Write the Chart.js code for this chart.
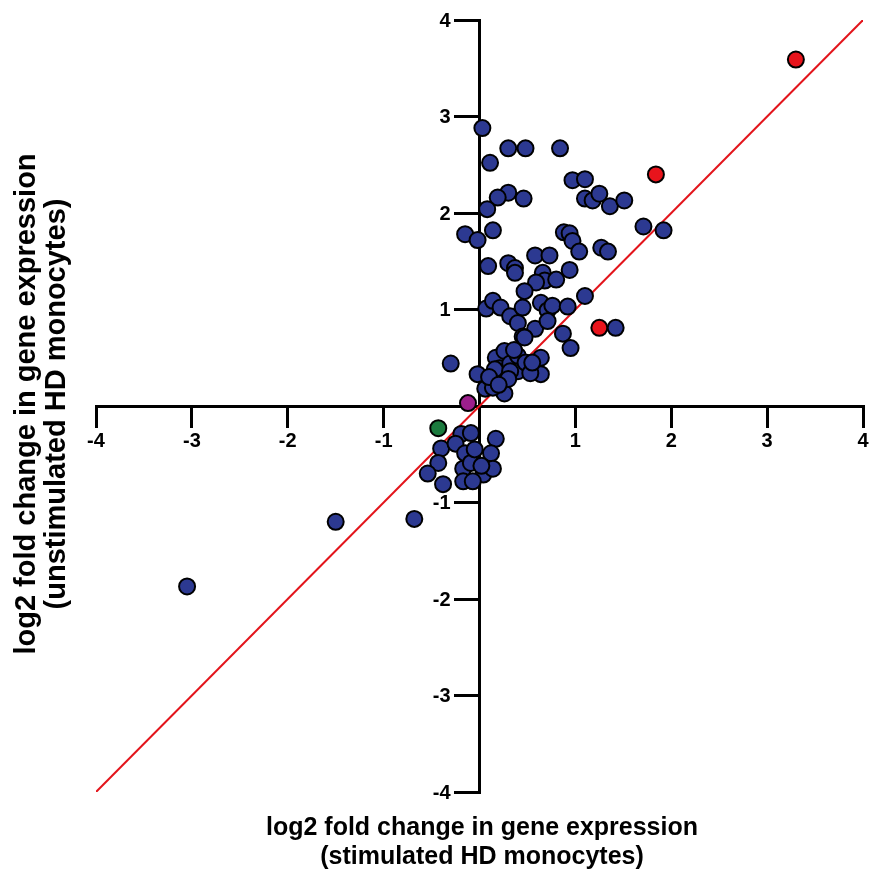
<!DOCTYPE html>
<html>
<head>
<meta charset="utf-8">
<script src="https://cdn.jsdelivr.net/npm/chart.js@4.4.1/dist/chart.umd.min.js"></script>
<style>
  body { margin: 0; background: #fff; }
  canvas { display: block; }
</style>
</head>
<body>
<canvas id="myChart" width="873" height="870"></canvas>
<script>
// axis ticks
const tickValues = [-4, -3, -2, -1, 0, 1, 2, 3, 4];

// genes, [stimulated, unstimulated] log2 fold change
const bluePoints = [
  [0.03, 2.88], [0.30, 2.67], [0.48, 2.67], [0.84, 2.67], [0.11, 2.52],
  [0.97, 2.34], [1.10, 2.35], [1.10, 2.15], [0.30, 2.21], [0.19, 2.16],
  [0.46, 2.15], [0.08, 2.04], [-0.15, 1.78], [0.14, 1.82], [-0.02, 1.72],
  [0.88, 1.80], [0.94, 1.79], [1.18, 2.13], [1.25, 2.20], [1.36, 2.07],
  [1.51, 2.13], [1.71, 1.86], [1.92, 1.82], [0.97, 1.71], [1.04, 1.60],
  [1.27, 1.64], [1.34, 1.60],
  [0.09, 1.45], [0.30, 1.48], [0.37, 1.43], [0.37, 1.38], [0.58, 1.56],
  [0.73, 1.56], [0.66, 1.38], [0.68, 1.30], [0.59, 1.28], [0.80, 1.31],
  [0.94, 1.41], [0.47, 1.19], [1.10, 1.14], [0.07, 1.01], [0.14, 1.09],
  [0.22, 1.02], [0.32, 0.93], [0.40, 0.86], [0.45, 1.02], [0.58, 0.80],
  [0.45, 0.72], [0.64, 1.07], [0.71, 0.99], [0.76, 1.04], [0.71, 0.88],
  [0.92, 1.03], [0.87, 0.75], [0.95, 0.60], [1.42, 0.81], [0.64, 0.50],
  [-0.30, 0.44], [-0.02, 0.33], [0.06, 0.18], [0.24, 0.26], [0.26, 0.13],
  [0.17, 0.50], [0.26, 0.57], [0.21, 0.39], [0.32, 0.44], [0.40, 0.36],
  [0.40, 0.52], [0.48, 0.45], [0.64, 0.33], [0.53, 0.34], [0.47, 0.71],
  [0.14, 0.19], [0.16, 0.38], [0.32, 0.36], [0.30, 0.28], [0.10, 0.30],
  [0.20, 0.22], [0.36, 0.58], [0.55, 0.45],
  [-0.19, -0.29], [-0.09, -0.28], [0.17, -0.34], [0.12, -0.49], [-0.40, -0.44],
  [-0.25, -0.39], [-0.15, -0.49], [-0.43, -0.59], [-0.54, -0.70], [-0.38, -0.81],
  [-0.17, -0.65], [-0.09, -0.59], [-0.17, -0.78], [0.04, -0.71], [0.14, -0.65],
  [-0.07, -0.78], [-0.05, -0.45], [0.02, -0.62],
  [-0.68, -1.17], [-1.50, -1.20], [-3.05, -1.87]
];
const redPoints = [[3.30, 3.59], [1.84, 2.40], [1.25, 0.81]];
const greenPoints = [[-0.43, -0.23]];
const purplePoints = [[-0.12, 0.03]];

// line of identity
const diagLine = [-4, 4];

const xTitle = ['log2 fold change in gene expression', '(stimulated HD monocytes)'];
const yTitle = ['log2 fold change in gene expression', '(unstimulated HD monocytes)'];

const FONT = '"Liberation Sans", Arial, sans-serif';

function toXY(arr) {
  return arr.map(p => ({ x: p[0], y: p[1] }));
}

function dotSet(arr, color) {
  return {
    data: toXY(arr),
    backgroundColor: color,
    borderColor: '#000',
    borderWidth: 2,
    pointRadius: 8,
    pointHoverRadius: 8,
    order: 1
  };
}

// axis titles + y tick labels (chart.js puts them on the tick marks for a centred axis)
const axisText = {
  id: 'axisText',
  afterDraw(chart) {
    const c = chart.ctx;
    const xs = chart.scales.x;
    const ys = chart.scales.y;
    c.save();
    c.fillStyle = '#000';

    c.font = 'bold 20px ' + FONT;
    c.textAlign = 'right';
    c.textBaseline = 'middle';
    const axisX = xs.getPixelForValue(0);
    tickValues.forEach(v => {
      if (v === 0) return;
      c.fillText(String(v), axisX - 29, ys.getPixelForValue(v) + 1);
    });

    c.textAlign = 'center';
    c.font = 'bold 25px ' + FONT;
    c.fillText(xTitle[0], 482, 828);
    c.fillText(xTitle[1], 482, 857);
    c.rotate(-Math.PI / 2);
    c.font = 'bold 29px ' + FONT;
    c.fillText(yTitle[0], -404, 27);
    c.fillText(yTitle[1], -404, 57);
    c.restore();
  }
};

const axisOpts = {
  type: 'linear',
  min: -4,
  max: 4,
  afterBuildTicks: (scale) => { scale.ticks = tickValues.map(v => ({ value: v })); },
  ticks: {
    color: '#000',
    font: { family: FONT, size: 20, weight: 'bold' },
    callback: (v) => v === 0 ? '' : v,
    autoSkip: false,
    maxRotation: 0,
    padding: 3
  },
  grid: { drawOnChartArea: false, drawTicks: true, tickLength: 20, color: '#000', lineWidth: 3 },
  border: { color: '#000', width: 3 }
};

const ctx = document.getElementById('myChart').getContext('2d');
const chart = new Chart(ctx, {
  type: 'scatter',
  data: {
    datasets: [
      dotSet(bluePoints, '#2c3991'),
      dotSet(redPoints, '#e8141c'),
      dotSet(greenPoints, '#1b7a3e'),
      dotSet(purplePoints, '#9c1f8c'),
      {
        type: 'line',
        data: diagLine.map(v => ({ x: v, y: v })),
        borderColor: '#e3141b',
        borderWidth: 2,
        pointRadius: 0,
        fill: false,
        order: 5
      }
    ]
  },
  options: {
    responsive: false,
    animation: false,
    layout: { padding: { left: 96, right: 7, top: 20, bottom: 78 } },
    plugins: { legend: { display: false }, tooltip: { enabled: false } },
    scales: {
      x: Object.assign({}, axisOpts, { position: { y: 0 } }),
      y: Object.assign({}, axisOpts, {
        position: { x: 0 },
        ticks: Object.assign({}, axisOpts.ticks, { callback: () => '' }),
        grid: Object.assign({}, axisOpts.grid, { tickLength: 24 })
      })
    }
  },
  plugins: [axisText]
});
</script>
</body>
</html>
